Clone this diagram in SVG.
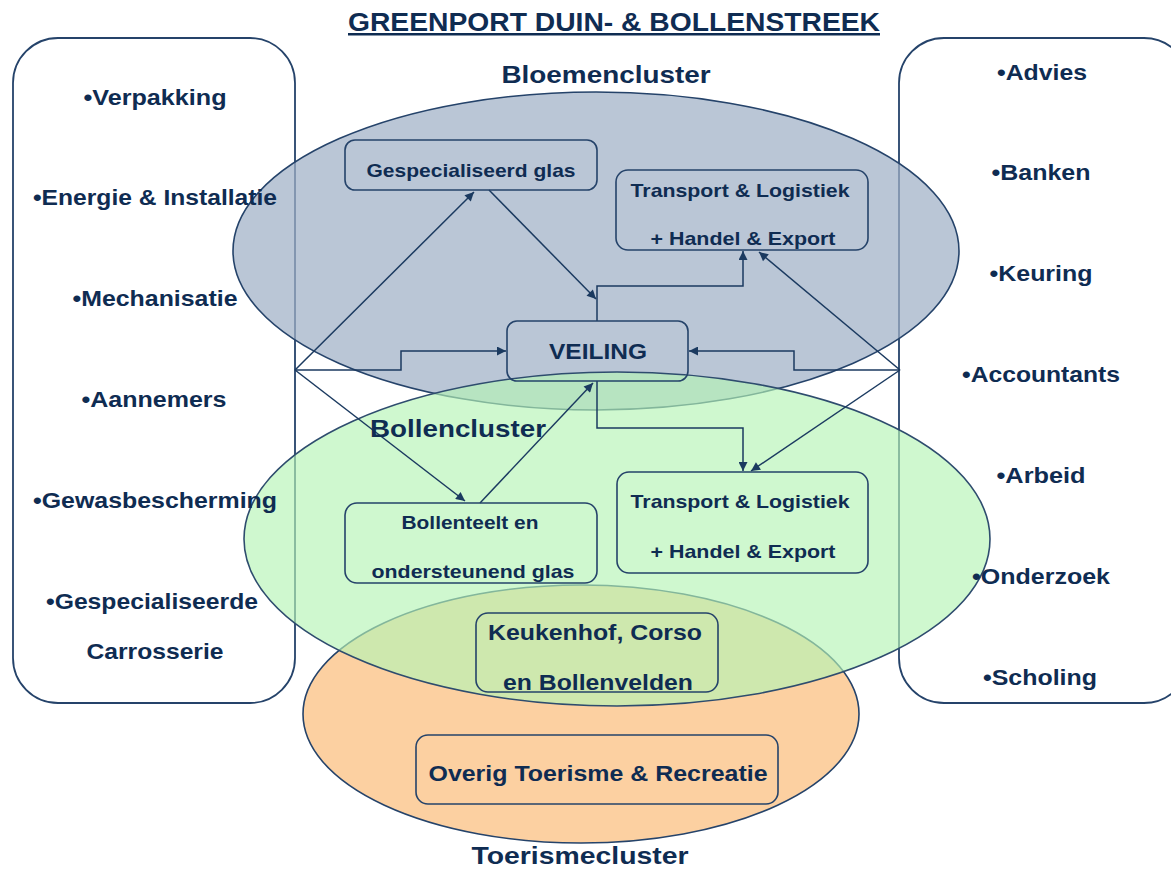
<svg xmlns="http://www.w3.org/2000/svg" width="1171" height="870" viewBox="0 0 1171 870">
<style>
text{font-family:"Liberation Sans",Arial,sans-serif;font-weight:bold;fill:#0f2c52;text-anchor:middle}
.t{font-size:25px;text-decoration:underline}
.c{font-size:24px}
.l{font-size:22px}
.s{font-size:19px}
.b{font-size:22px}
.box{fill:none;stroke:#25436a;stroke-width:1.6}
.side{fill:none;stroke:#25436a;stroke-width:1.8}
.con{fill:none;stroke:#1b3a60;stroke-width:1.5;marker-end:url(#ah)}
</style>
<defs>
<marker id="ah" viewBox="0 0 10 10" refX="10" refY="5" markerWidth="12" markerHeight="9" markerUnits="userSpaceOnUse" orient="auto">
<path d="M0,0 L10,5 L0,10 z" fill="#1b3a60"/>
</marker>
</defs>
<rect width="1171" height="870" fill="#ffffff"/>
<g id="left-box"><rect class="side" x="13" y="38" width="282" height="665" rx="45"/></g>
<g id="right-box"><rect class="side" x="899" y="38" width="290" height="665" rx="45"/></g>
<g id="toerismecluster"><ellipse cx="581" cy="714" rx="278" ry="129" fill="#fcd0a1" stroke="#25436a" stroke-width="1.6"/></g>
<g id="bloemencluster"><ellipse cx="596" cy="251" rx="363" ry="159" fill="#a0b0c6" fill-opacity="0.72" stroke="#25436a" stroke-width="1.6"/></g>
<g id="bollencluster"><ellipse cx="617" cy="539" rx="373" ry="167" fill="#b5f5b5" fill-opacity="0.65" stroke="#2e4c6e" stroke-width="1.6"/></g>
<g id="connectors">
<path class="con" d="M295,370 L474,192"/>
<path class="con" d="M295,370 L465,501"/>
<path class="con" d="M295,370 H401 V351 H506"/>
<path class="con" d="M900,370 L759,252"/>
<path class="con" d="M900,370 L751,471"/>
<path class="con" d="M900,370 H794 V351 H689"/>
<path class="con" d="M489,190 L596,299"/>
<path class="con" d="M597,321 V286 H743 V251"/>
<path class="con" d="M597,381 V428 H743 V471"/>
<path class="con" d="M480,503 L593,383"/>
</g>
<g id="gespecialiseerd-glas"><rect class="box" x="345" y="140" width="252" height="50" rx="10"/><text class="s" x="471" y="177" textLength="209" lengthAdjust="spacingAndGlyphs">Gespecialiseerd glas</text></g>
<g id="transport-top"><rect class="box" x="616" y="170" width="252" height="80" rx="12"/><text class="s" x="740" y="197" textLength="219" lengthAdjust="spacingAndGlyphs">Transport &amp; Logistiek</text><text class="s" x="743" y="245" textLength="185" lengthAdjust="spacingAndGlyphs">+ Handel &amp; Export</text></g>
<g id="veiling"><rect class="box" x="507" y="321" width="181" height="60" rx="10"/><text class="b" x="598" y="359" textLength="98" lengthAdjust="spacingAndGlyphs">VEILING</text></g>
<g id="bollenteelt"><rect class="box" x="345" y="503" width="252" height="80" rx="12"/><text class="s" x="470" y="529" textLength="137" lengthAdjust="spacingAndGlyphs">Bollenteelt en</text><text class="s" x="473" y="578" textLength="203" lengthAdjust="spacingAndGlyphs">ondersteunend glas</text></g>
<g id="transport-bottom"><rect class="box" x="617" y="472" width="251" height="101" rx="12"/><text class="s" x="740" y="508" textLength="219" lengthAdjust="spacingAndGlyphs">Transport &amp; Logistiek</text><text class="s" x="743" y="558" textLength="185" lengthAdjust="spacingAndGlyphs">+ Handel &amp; Export</text></g>
<g id="keukenhof"><rect class="box" x="476" y="613" width="242" height="79" rx="12"/><text class="b" x="595" y="640" textLength="214" lengthAdjust="spacingAndGlyphs">Keukenhof, Corso</text><text class="b" x="598" y="690" textLength="190" lengthAdjust="spacingAndGlyphs">en Bollenvelden</text></g>
<g id="overig"><rect class="box" x="416" y="735" width="362" height="69" rx="12"/><text class="b" x="598" y="781" textLength="339" lengthAdjust="spacingAndGlyphs">Overig Toerisme &amp; Recreatie</text></g>
<g id="labels">
<text class="t" x="614" y="31" textLength="532" lengthAdjust="spacingAndGlyphs">GREENPORT DUIN- &amp; BOLLENSTREEK</text>
<text class="c" x="606" y="83" textLength="209" lengthAdjust="spacingAndGlyphs">Bloemencluster</text>
<text class="c" x="458" y="437" textLength="176" lengthAdjust="spacingAndGlyphs">Bollencluster</text>
<text class="c" x="580" y="864" textLength="217" lengthAdjust="spacingAndGlyphs">Toerismecluster</text>
</g>
<g id="left-list">
<text class="l" x="155" y="105" textLength="143" lengthAdjust="spacingAndGlyphs">•Verpakking</text>
<text class="l" x="155" y="205" textLength="244" lengthAdjust="spacingAndGlyphs">•Energie &amp; Installatie</text>
<text class="l" x="155" y="306" textLength="165" lengthAdjust="spacingAndGlyphs">•Mechanisatie</text>
<text class="l" x="154" y="407" textLength="145" lengthAdjust="spacingAndGlyphs">•Aannemers</text>
<text class="l" x="155" y="508" textLength="244" lengthAdjust="spacingAndGlyphs">•Gewasbescherming</text>
<text class="l" x="152" y="609" textLength="212" lengthAdjust="spacingAndGlyphs">•Gespecialiseerde</text>
<text class="l" x="155" y="659" textLength="137" lengthAdjust="spacingAndGlyphs">Carrosserie</text>
</g>
<g id="right-list">
<text class="l" x="1042" y="80" textLength="90" lengthAdjust="spacingAndGlyphs">•Advies</text>
<text class="l" x="1041" y="180" textLength="99" lengthAdjust="spacingAndGlyphs">•Banken</text>
<text class="l" x="1041" y="281" textLength="103" lengthAdjust="spacingAndGlyphs">•Keuring</text>
<text class="l" x="1041" y="382" textLength="158" lengthAdjust="spacingAndGlyphs">•Accountants</text>
<text class="l" x="1041" y="483" textLength="89" lengthAdjust="spacingAndGlyphs">•Arbeid</text>
<text class="l" x="1041" y="584" textLength="138" lengthAdjust="spacingAndGlyphs">•Onderzoek</text>
<text class="l" x="1040" y="685" textLength="114" lengthAdjust="spacingAndGlyphs">•Scholing</text>
</g>
</svg>
